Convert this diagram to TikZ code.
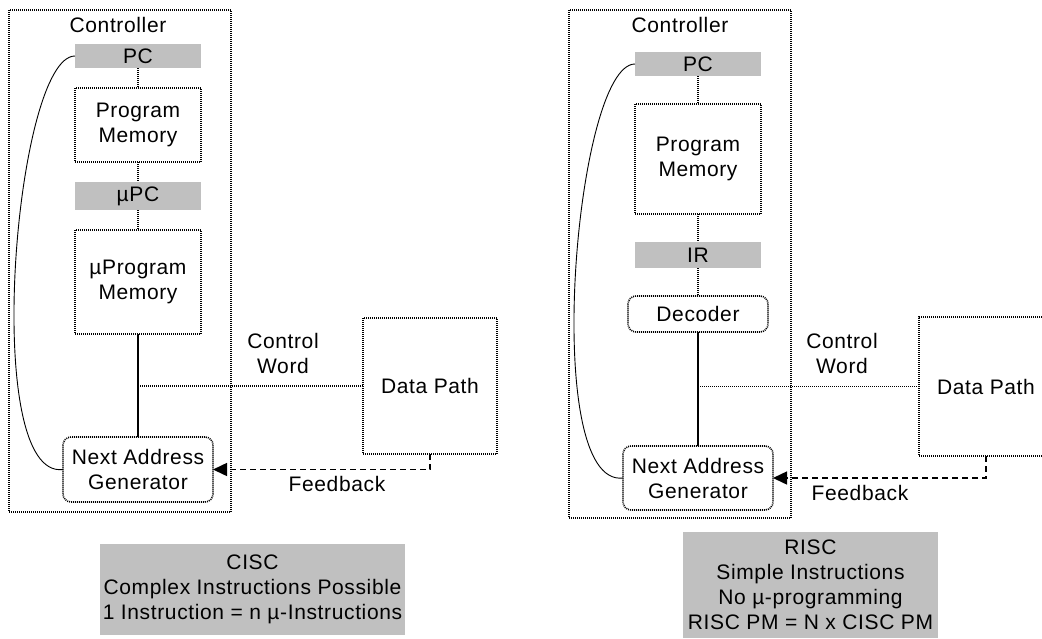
\documentclass[tikz,border=0pt]{standalone}
\usepackage{fontspec}
\setmainfont{Liberation Sans}[LetterSpace=3]
\usetikzlibrary{arrows.meta}
\definecolor{regfill}{RGB}{192,192,192}
\tikzset{
  txt/.style={font=\fontsize{21}{25}\selectfont, align=center, inner sep=0pt},
  dotline/.style={line width=1.6pt, dash pattern=on 1pt off 1pt},
  blockbox/.style={txt, draw, dotline, outer sep=0pt},
  roundbox/.style={blockbox, rounded corners=8pt},
  regbox/.style={txt, fill=regfill, outer sep=0pt},
  frame/.style={draw, dotline, inner sep=0pt, outer sep=0pt},
  wire/.style={dotline},
  solidwire/.style={line width=1.1pt},
  loopback/.style={line width=0.9pt},
  feedback/.style={line width=1.5pt, dash pattern=on 6pt off 4pt,
                   -{Triangle[length=14pt,width=13pt]}},
  notebox/.style={txt, fill=regfill, outer sep=0pt},
}
\begin{document}
\begin{tikzpicture}[x=1pt, y=-1pt]
\useasboundingbox (0,0) rectangle (1042,638);
\clip (0,0) rectangle (1042,638);

% ---------------- CISC controller ----------------
\node[frame, minimum width=222pt, minimum height=502pt] (ctrlL) at (120,261) {};
\node[txt] (ctrlLlab) at (118,25) {Controller};
\node[regbox, minimum width=126pt, minimum height=24pt] (pcL) at (138,56) {PC};
\node[blockbox, minimum width=126pt, minimum height=74pt] (pmL) at (138,125) {Program\\Memory};
\node[regbox, minimum width=126pt, minimum height=28pt] (upcL) at (138,196) {µPC};
\node[blockbox, minimum width=126pt, minimum height=104pt] (upmL) at (138,282) {µProgram\\Memory};
\node[roundbox, minimum width=150pt, minimum height=65pt] (nagL) at (138,469.5) {Next Address\\Generator};
\node[blockbox, minimum width=134pt, minimum height=136pt] (dpL) at (430,386) {Data Path};
\coordinate (jL) at (upmL.south |- dpL.west);

\draw[wire] (pcL.south) -- (pmL.north);
\draw[wire] (pmL.south) -- (upcL.north);
\draw[wire] (upcL.south) -- (upmL.north);
\draw[solidwire] (upmL.south) -- (nagL.north);
\draw[wire] (jL) -- (dpL.west);
\draw[feedback] (dpL.south) |- (nagL.east);
\draw[loopback] (pcL.west) .. controls (15,56) and (-20,480) .. (nagL.west);

\node[txt] (cwL) at (283,353.5) {Control\\Word};
\node[txt] (fbL) at (337,484) {Feedback};

% ---------------- RISC controller ----------------
\node[frame, minimum width=222pt, minimum height=508pt] (ctrlR) at (680,264) {};
\node[txt] (ctrlRlab) at (680,25) {Controller};
\node[regbox, minimum width=126pt, minimum height=24pt] (pcR) at (698,64) {PC};
\node[blockbox, minimum width=126pt, minimum height=110pt] (pmR) at (698,159) {Program\\Memory};
\node[regbox, minimum width=126pt, minimum height=26pt] (irR) at (698,255) {IR};
\node[roundbox, minimum width=140pt, minimum height=36pt] (decR) at (698,314) {Decoder};
\node[roundbox, minimum width=150pt, minimum height=64pt] (nagR) at (698,478) {Next Address\\Generator};
\node[blockbox, minimum width=134pt, minimum height=139pt] (dpR) at (986,386.5) {Data Path};
\coordinate (jR) at (decR.south |- dpR.west);

\draw[wire] (pcR.south) -- (pmR.north);
\draw[wire] (pmR.south) -- (irR.north);
\draw[wire] (irR.south) -- (decR.north);
\draw[solidwire] (decR.south) -- (nagR.north);
\draw[wire] (jR) -- (dpR.west);
\draw[feedback] (dpR.south) |- (nagR.east);
\draw[loopback] (pcR.west) .. controls (575,64) and (540,488) .. (nagR.west);

\node[txt] (cwR) at (842,353) {Control\\Word};
\node[txt] (fbR) at (860,493) {Feedback};

% ---------------- summaries ----------------
\node[notebox, minimum width=305pt, minimum height=91pt] (cisc) at (252.5,589.5)
  {CISC\\Complex Instructions Possible\\1 Instruction = n µ-Instructions};
\node[notebox, minimum width=255pt, minimum height=106pt] (risc) at (810.5,585)
  {RISC\\Simple Instructions\\No µ-programming\\RISC PM = N x CISC PM};
\end{tikzpicture}
\end{document}
